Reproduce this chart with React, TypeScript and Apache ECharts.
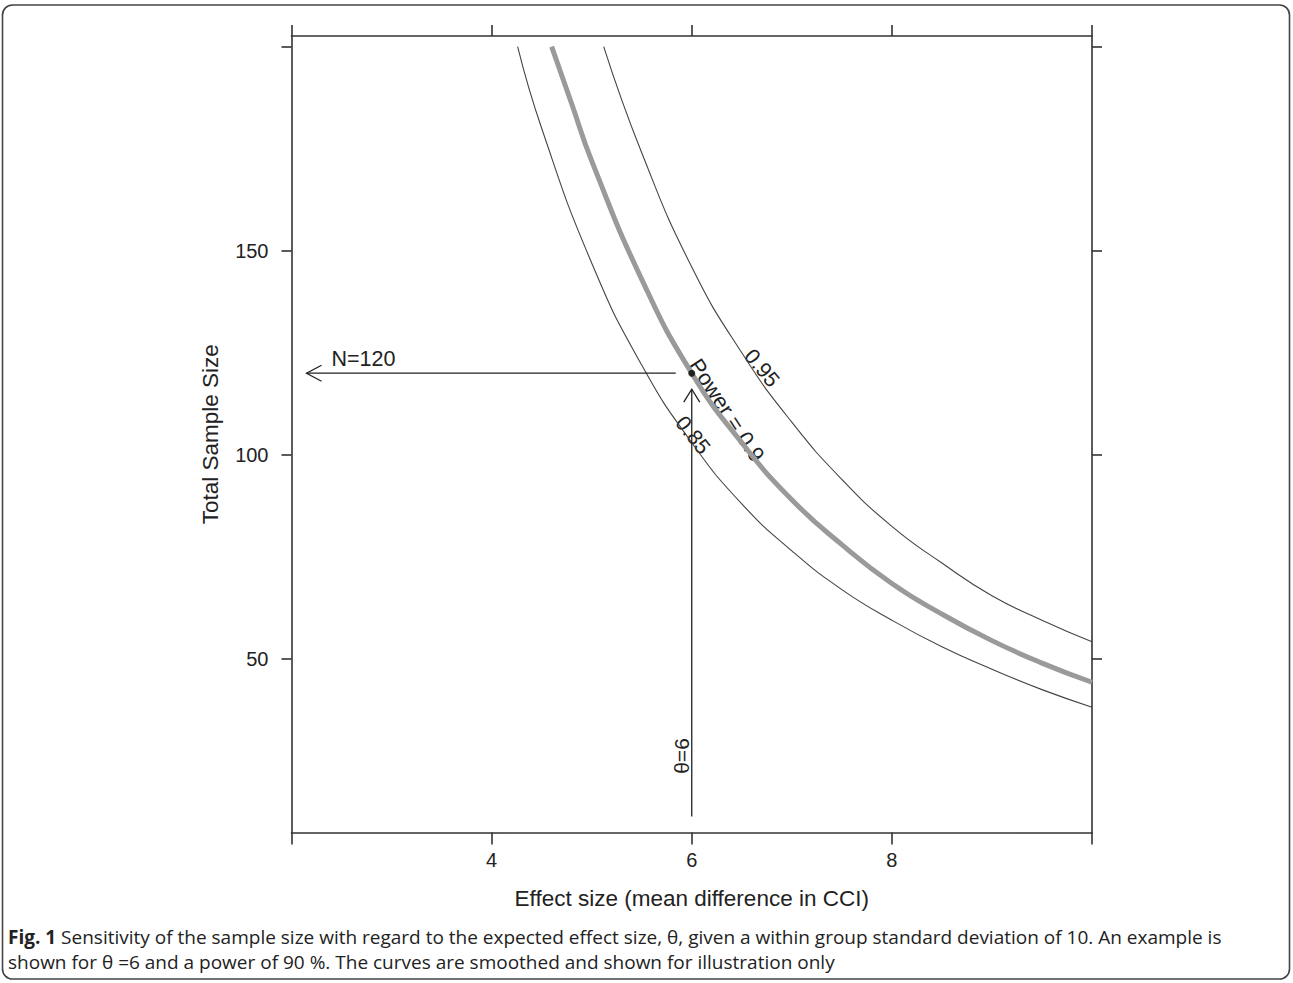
import React, { useEffect, useRef } from "react";
import * as echarts from "echarts";

// Effect size (x) and total sample size (y), per power curve
const effect85 = [4.26, 4.5, 5, 5.5, 6, 6.5, 7, 7.5, 8, 8.5, 9, 9.5, 10];
const n85 = [200, 180, 147, 122, 103, 88, 76.5, 67, 59.5, 53, 47.5, 42.5, 38.2];
const effect90 = [4.6, 4.8, 5, 5.5, 6, 6.5, 7, 7.5, 8, 8.5, 9, 9.5, 10];
const n90 = [200, 186, 172, 143, 120, 103, 89, 78, 68.5, 61, 54.5, 49, 44.3];
const effect95 = [5.12, 5.5, 6, 6.5, 7, 7.5, 8, 8.5, 9, 9.5, 10];
const n95 = [200, 174, 146, 125, 108, 94, 82.5, 73.5, 65.5, 59.5, 54.2];

// Example: theta = 6, N = 120
const exampleEffect = 6;
const exampleN = 120;
const hArrowX = [5.84, 2.15];
const vArrowY = [11.4, 116.1];

const xTicks = [2, 4, 6, 8, 10];
const xLabels = [4, 6, 8];
const yTicks = [50, 100, 150, 200];
const yLabels = [50, 100, 150];

const FONT = "'Liberation Sans', Arial, Helvetica, sans-serif";
const CAPFONT = "'Open Sans', 'Noto Sans', sans-serif";
const INK = "#222";
const AXIS = "#333";

const zip = (xs: number[], ys: number[]) => xs.map((x, i) => [x, ys[i]]);

export default function App() {
  const ref = useRef<HTMLDivElement>(null);
  useEffect(() => {
    document.body.style.margin = "0";
    const chart = echarts.init(ref.current!, null, { renderer: "svg" });
    const axisLineStyle = { color: AXIS, width: 1.6 };
    const option: any = {
      animation: false,
      backgroundColor: "#fff",
      grid: { left: 291.5, top: 36, width: 800.5, height: 796.5 },
      xAxis: [
        {
          type: "value",
          position: "bottom",
          min: 2,
          max: 10,
          axisLine: { show: true, onZero: false, lineStyle: axisLineStyle },
          axisTick: { show: true, inside: false, length: 12, customValues: xTicks, lineStyle: axisLineStyle },
          axisLabel: { show: true, customValues: xLabels, fontSize: 20, color: INK, fontFamily: FONT, margin: 17 },
          splitLine: { show: false },
          name: "Effect size (mean difference in CCI)",
          nameLocation: "middle",
          nameGap: 54,
          nameTextStyle: { fontSize: 22.5, color: INK, fontFamily: FONT },
        },
        {
          type: "value",
          position: "top",
          min: 2,
          max: 10,
          axisLine: { show: true, onZero: false, lineStyle: axisLineStyle },
          axisTick: { show: true, inside: false, length: 11, customValues: xTicks, lineStyle: axisLineStyle },
          axisLabel: { show: false },
          splitLine: { show: false },
        },
      ],
      yAxis: [
        {
          type: "value",
          position: "left",
          min: 7.5,
          max: 202.6,
          axisLine: { show: true, onZero: false, lineStyle: axisLineStyle },
          axisTick: { show: true, inside: false, length: 10, customValues: yTicks, lineStyle: axisLineStyle },
          axisLabel: { show: true, customValues: yLabels, fontSize: 20, color: INK, fontFamily: FONT, margin: 23 },
          splitLine: { show: false },
          name: "Total Sample Size",
          nameLocation: "middle",
          nameGap: 70,
          nameRotate: 90,
          nameTextStyle: { fontSize: 22.5, color: INK, fontFamily: FONT },
        },
        {
          type: "value",
          position: "right",
          min: 7.5,
          max: 202.6,
          axisLine: { show: true, onZero: false, lineStyle: axisLineStyle },
          axisTick: { show: true, inside: false, length: 10, customValues: yTicks, lineStyle: axisLineStyle },
          axisLabel: { show: false },
          splitLine: { show: false },
        },
      ],
      series: [
        {
          name: "0.85",
          type: "line",
          smooth: true,
          showSymbol: false,
          data: zip(effect85, n85),
          lineStyle: { color: "#444", width: 1.1 },
        },
        {
          name: "0.95",
          type: "line",
          smooth: true,
          showSymbol: false,
          data: zip(effect95, n95),
          lineStyle: { color: "#444", width: 1.1 },
        },
        {
          name: "0.9",
          type: "line",
          smooth: true,
          showSymbol: false,
          data: zip(effect90, n90),
          lineStyle: { color: "#9a9a9a", width: 5 },
        },
        {
          name: "hArrow",
          type: "line",
          showSymbol: false,
          data: hArrowX.map((x) => [x, exampleN]),
          lineStyle: { color: INK, width: 1.3 },
        },
        {
          name: "vArrow",
          type: "line",
          showSymbol: false,
          data: vArrowY.map((y) => [exampleEffect, y]),
          lineStyle: { color: INK, width: 1.3 },
        },
        {
          name: "point",
          type: "scatter",
          symbolSize: 7,
          data: [[exampleEffect, exampleN]],
          itemStyle: { color: "#000" },
          z: 5,
        },
      ],
    };
    chart.setOption(option);

    const px = (x: number, y: number) =>
      chart.convertToPixel({ xAxisIndex: 0, yAxisIndex: 0 }, [x, y]) as number[];

    const hTip = px(hArrowX[1], exampleN);
    const vTip = px(exampleEffect, vArrowY[1]);
    const pt = px(exampleEffect, exampleN);

    const textStyle = (text: string, size = 21) => ({
      text,
      fontSize: size,
      fontFamily: FONT,
      fill: INK,
      align: "center",
      verticalAlign: "middle",
    });

    const caption1 =
      "{b|Fig. 1} Sensitivity of the sample size with regard to the expected effect size, θ, given a within group standard deviation of 10. An example is";
    const caption2 =
      "shown for θ =6 and a power of 90 %. The curves are smoothed and shown for illustration only";

    chart.setOption({
      graphic: [
        {
          type: "rect",
          shape: { x: 2.5, y: 5, width: 1287, height: 974, r: 10 },
          style: { fill: "none", stroke: "#444", lineWidth: 1.6 },
          silent: true,
        },
        {
          type: "polyline",
          shape: { points: [[hTip[0] + 15, hTip[1] - 8], [hTip[0], hTip[1]], [hTip[0] + 15, hTip[1] + 8]] },
          style: { fill: "none", stroke: INK, lineWidth: 1.3 },
        },
        {
          type: "polyline",
          shape: { points: [[vTip[0] - 8, vTip[1] + 13], [vTip[0], vTip[1]], [vTip[0] + 8, vTip[1] + 13]] },
          style: { fill: "none", stroke: INK, lineWidth: 1.3 },
        },
        {
          type: "text",
          x: hTip[0] + 25,
          y: hTip[1] - 3,
          style: { ...textStyle("N=120", 21.5), align: "left", verticalAlign: "bottom" },
        },
        {
          type: "text",
          x: pt[0] - 10,
          y: 756,
          rotation: Math.PI / 2,
          style: textStyle("θ=6"),
        },
        {
          type: "text",
          x: pt[0] + 35,
          y: pt[1] + 37,
          rotation: -0.99,
          style: textStyle("Power = 0.9", 22),
        },
        {
          type: "text",
          x: pt[0] + 1,
          y: pt[1] + 62,
          rotation: -0.9,
          style: textStyle("0.85", 21.5),
        },
        {
          type: "text",
          x: pt[0] + 70,
          y: pt[1] - 5,
          rotation: -0.88,
          style: textStyle("0.95", 21.5),
        },
        {
          type: "text",
          x: 8,
          y: 937,
          style: {
            text: caption1,
            fontSize: 19,
            fontFamily: CAPFONT,
            fill: "#222",
            align: "left",
            verticalAlign: "middle",
            rich: {
              b: { fontSize: 19, fontWeight: "bold", fontFamily: CAPFONT, fill: "#222" },
            },
          },
        },
        {
          type: "text",
          x: 8,
          y: 962,
          style: {
            text: caption2,
            fontSize: 19,
            fontFamily: CAPFONT,
            fill: "#222",
            align: "left",
            verticalAlign: "middle",
          },
        },
      ],
    });

    return () => chart.dispose();
  }, []);

  return (
    <div
      ref={ref}
      style={{ position: "absolute", left: 0, top: 0, width: 1293, height: 983, background: "#fff" }}
    />
  );
}
